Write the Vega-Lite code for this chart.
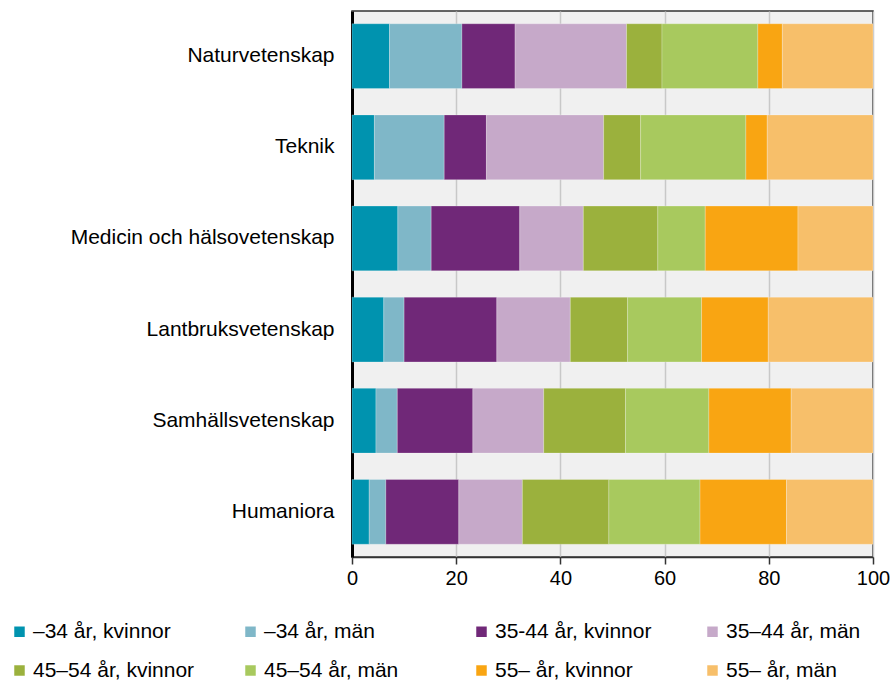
{
  "$schema": "https://vega.github.io/schema/vega-lite/v6.json",
  "autosize": {"type": "none"},
  "padding": {"left": 352, "top": 11, "right": 22, "bottom": 123},
  "width": 521,
  "height": 546,
  "background": "#ffffff",
  "config": {
    "font": "Liberation Sans",
    "view": {"fill": "#f0f0f0", "stroke": "#333333", "strokeWidth": 1.5}
  },
  "data": {
    "values": [
      {"omrade": "Naturvetenskap", "grupp": "–34 år, kvinnor", "o": 1, "andel": 7.2},
      {"omrade": "Naturvetenskap", "grupp": "–34 år, män", "o": 2, "andel": 13.9},
      {"omrade": "Naturvetenskap", "grupp": "35-44 år, kvinnor", "o": 3, "andel": 10.2},
      {"omrade": "Naturvetenskap", "grupp": "35–44 år, män", "o": 4, "andel": 21.4},
      {"omrade": "Naturvetenskap", "grupp": "45–54 år, kvinnor", "o": 5, "andel": 6.8},
      {"omrade": "Naturvetenskap", "grupp": "45–54 år, män", "o": 6, "andel": 18.4},
      {"omrade": "Naturvetenskap", "grupp": "55– år, kvinnor", "o": 7, "andel": 4.7},
      {"omrade": "Naturvetenskap", "grupp": "55– år, män", "o": 8, "andel": 17.4},
      {"omrade": "Teknik", "grupp": "–34 år, kvinnor", "o": 1, "andel": 4.3},
      {"omrade": "Teknik", "grupp": "–34 år, män", "o": 2, "andel": 13.4},
      {"omrade": "Teknik", "grupp": "35-44 år, kvinnor", "o": 3, "andel": 8.1},
      {"omrade": "Teknik", "grupp": "35–44 år, män", "o": 4, "andel": 22.5},
      {"omrade": "Teknik", "grupp": "45–54 år, kvinnor", "o": 5, "andel": 7.1},
      {"omrade": "Teknik", "grupp": "45–54 år, män", "o": 6, "andel": 20.2},
      {"omrade": "Teknik", "grupp": "55– år, kvinnor", "o": 7, "andel": 4.1},
      {"omrade": "Teknik", "grupp": "55– år, män", "o": 8, "andel": 20.3},
      {"omrade": "Medicin och hälsovetenskap", "grupp": "–34 år, kvinnor", "o": 1, "andel": 8.8},
      {"omrade": "Medicin och hälsovetenskap", "grupp": "–34 år, män", "o": 2, "andel": 6.4},
      {"omrade": "Medicin och hälsovetenskap", "grupp": "35-44 år, kvinnor", "o": 3, "andel": 17.0},
      {"omrade": "Medicin och hälsovetenskap", "grupp": "35–44 år, män", "o": 4, "andel": 12.2},
      {"omrade": "Medicin och hälsovetenskap", "grupp": "45–54 år, kvinnor", "o": 5, "andel": 14.3},
      {"omrade": "Medicin och hälsovetenskap", "grupp": "45–54 år, män", "o": 6, "andel": 9.1},
      {"omrade": "Medicin och hälsovetenskap", "grupp": "55– år, kvinnor", "o": 7, "andel": 17.8},
      {"omrade": "Medicin och hälsovetenskap", "grupp": "55– år, män", "o": 8, "andel": 14.4},
      {"omrade": "Lantbruksvetenskap", "grupp": "–34 år, kvinnor", "o": 1, "andel": 6.1},
      {"omrade": "Lantbruksvetenskap", "grupp": "–34 år, män", "o": 2, "andel": 3.9},
      {"omrade": "Lantbruksvetenskap", "grupp": "35-44 år, kvinnor", "o": 3, "andel": 17.8},
      {"omrade": "Lantbruksvetenskap", "grupp": "35–44 år, män", "o": 4, "andel": 14.1},
      {"omrade": "Lantbruksvetenskap", "grupp": "45–54 år, kvinnor", "o": 5, "andel": 11.0},
      {"omrade": "Lantbruksvetenskap", "grupp": "45–54 år, män", "o": 6, "andel": 14.2},
      {"omrade": "Lantbruksvetenskap", "grupp": "55– år, kvinnor", "o": 7, "andel": 12.8},
      {"omrade": "Lantbruksvetenskap", "grupp": "55– år, män", "o": 8, "andel": 20.1},
      {"omrade": "Samhällsvetenskap", "grupp": "–34 år, kvinnor", "o": 1, "andel": 4.6},
      {"omrade": "Samhällsvetenskap", "grupp": "–34 år, män", "o": 2, "andel": 4.1},
      {"omrade": "Samhällsvetenskap", "grupp": "35-44 år, kvinnor", "o": 3, "andel": 14.5},
      {"omrade": "Samhällsvetenskap", "grupp": "35–44 år, män", "o": 4, "andel": 13.6},
      {"omrade": "Samhällsvetenskap", "grupp": "45–54 år, kvinnor", "o": 5, "andel": 15.7},
      {"omrade": "Samhällsvetenskap", "grupp": "45–54 år, män", "o": 6, "andel": 16.0},
      {"omrade": "Samhällsvetenskap", "grupp": "55– år, kvinnor", "o": 7, "andel": 15.8},
      {"omrade": "Samhällsvetenskap", "grupp": "55– år, män", "o": 8, "andel": 15.7},
      {"omrade": "Humaniora", "grupp": "–34 år, kvinnor", "o": 1, "andel": 3.3},
      {"omrade": "Humaniora", "grupp": "–34 år, män", "o": 2, "andel": 3.2},
      {"omrade": "Humaniora", "grupp": "35-44 år, kvinnor", "o": 3, "andel": 14.0},
      {"omrade": "Humaniora", "grupp": "35–44 år, män", "o": 4, "andel": 12.2},
      {"omrade": "Humaniora", "grupp": "45–54 år, kvinnor", "o": 5, "andel": 16.6},
      {"omrade": "Humaniora", "grupp": "45–54 år, män", "o": 6, "andel": 17.5},
      {"omrade": "Humaniora", "grupp": "55– år, kvinnor", "o": 7, "andel": 16.6},
      {"omrade": "Humaniora", "grupp": "55– år, män", "o": 8, "andel": 16.6}
    ]
  },
  "mark": {"type": "bar", "stroke": "#ffffff", "strokeWidth": 0.6, "strokeOpacity": 0.4},
  "encoding": {
    "y": {
      "field": "omrade",
      "type": "nominal",
      "sort": ["Naturvetenskap", "Teknik", "Medicin och hälsovetenskap", "Lantbruksvetenskap", "Samhällsvetenskap", "Humaniora"],
      "scale": {"paddingInner": 0.29, "paddingOuter": 0.14},
      "axis": {
        "title": null,
        "ticks": false,
        "domainColor": "#000000",
        "domainWidth": 3,
        "labelFontSize": 21,
        "labelColor": "#000000",
        "labelPadding": 18,
        "labelLimit": 340
      }
    },
    "x": {
      "field": "andel",
      "type": "quantitative",
      "stack": "zero",
      "scale": {"domain": [0, 100], "nice": false},
      "axis": {
        "title": null,
        "values": [0, 20, 40, 60, 80, 100],
        "grid": true,
        "gridColor": "#c8c8c8",
        "gridWidth": 1.5,
        "domainColor": "#333333",
        "domainWidth": 1.5,
        "tickColor": "#333333",
        "tickWidth": 1.5,
        "tickSize": 7,
        "labelFontSize": 20,
        "labelColor": "#000000",
        "labelPadding": 4,
        "labelFlush": false
      }
    },
    "order": {"field": "o", "type": "quantitative"},
    "color": {
      "field": "grupp",
      "type": "nominal",
      "scale": {
        "domain": ["–34 år, kvinnor", "–34 år, män", "35-44 år, kvinnor", "35–44 år, män", "45–54 år, kvinnor", "45–54 år, män", "55– år, kvinnor", "55– år, män"],
        "range": ["#0093af", "#7fb7c8", "#702878", "#c6a9c9", "#9bb13d", "#a8c95e", "#f9a512", "#f7bf6a"]
      },
      "legend": {
        "title": null,
        "orient": "none",
        "legendX": -343,
        "legendY": 610,
        "direction": "horizontal",
        "columns": 4,
        "gridAlign": "all",
        "columnPadding": 45,
        "rowPadding": 17,
        "symbolType": "square",
        "symbolSize": 110,
        "symbolStrokeWidth": 0,
        "symbolOpacity": 1,
        "labelFontSize": 21,
        "labelColor": "#000000",
        "labelOffset": 3,
        "labelLimit": 300,
        "padding": 0
      }
    }
  }
}
